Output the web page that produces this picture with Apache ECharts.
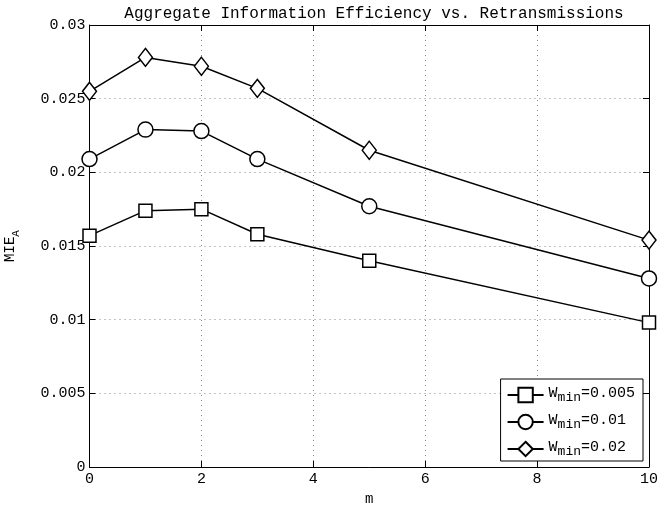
<!DOCTYPE html>
<html>
<head>
<meta charset="utf-8">
<script src="https://cdn.jsdelivr.net/npm/echarts@6/dist/echarts.min.js"></script>
<style>
  html, body { margin: 0; padding: 0; background: #fff; }
  #chart { width: 659px; height: 506px; }
</style>
</head>
<body>
<div id="chart"></div>
<script>
  // values
  var mValues = [0, 1, 2, 3, 5, 10];
  var wmin005 = [0.0157, 0.0174, 0.0175, 0.0158, 0.0140, 0.0098];
  var wmin01 = [0.0209, 0.0229, 0.0228, 0.0209, 0.0177, 0.0128];
  var wmin02 = [0.0255, 0.0278, 0.0272, 0.0257, 0.0215, 0.0154];
  var seriesNames = ['W_min=0.005', 'W_min=0.01', 'W_min=0.02'];

  var FONT = 'Liberation Mono';

  function pairs(ys) {
    return mValues.map(function (m, i) { return [m, ys[i]]; });
  }

  var myChart = echarts.init(document.getElementById('chart'));

  var lineStyle = { color: '#000', width: 1.5 };
  var itemStyle = { color: '#fff', borderColor: '#000', borderWidth: 1.5 };

  myChart.setOption({
    animation: false,
    backgroundColor: '#fff',
    title: {
      text: 'Aggregate Information Efficiency vs. Retransmissions',
      left: 369,
      textAlign: 'center',
      top: 1,
      textStyle: { fontFamily: FONT, fontSize: 16, fontWeight: 'normal', color: '#000' }
    },
    grid: { left: 89.5, right: 10, top: 25, bottom: 39, containLabel: false, outerBoundsMode: 'none' },
    legend: {
      orient: 'vertical',
      right: 16,
      bottom: 45,
      backgroundColor: '#fff',
      borderColor: '#000',
      borderWidth: 1,
      padding: [3, 8, 3, 6],
      itemGap: 5,
      itemWidth: 36,
      itemHeight: 18,
      data: seriesNames,
      formatter: function (name) {
        var v = name.split('=')[1];
        return '{n|W}{s|min}{n|=' + v + '}';
      },
      textStyle: {
        fontFamily: FONT,
        color: '#000',
        rich: {
          n: { fontFamily: FONT, fontSize: 15, color: '#000', verticalAlign: 'top', lineHeight: 18 },
          s: { fontFamily: FONT, fontSize: 13, color: '#000', verticalAlign: 'bottom', lineHeight: 18, padding: [9, 0, 0, 0] }
        }
      }
    },
    xAxis: [{
      type: 'value',
      min: 0, max: 10, interval: 2,
      name: 'm',
      nameLocation: 'middle',
      nameGap: 24,
      nameTextStyle: { fontFamily: FONT, fontSize: 14, color: '#000' },
      axisLine: { onZero: false, lineStyle: { color: '#000', width: 1 } },
      axisTick: { inside: true, length: 6, lineStyle: { color: '#000' } },
      axisLabel: { fontFamily: FONT, fontSize: 15, color: '#000', margin: 5 },
      splitLine: { show: true, lineStyle: { color: '#888', type: [1, 4] } }
    }, {
      type: 'value', position: 'top',
      min: 0, max: 10, interval: 2,
      axisLine: { onZero: false, lineStyle: { color: '#000', width: 1 } },
      axisTick: { inside: true, length: 6, lineStyle: { color: '#000' } },
      axisLabel: { show: false },
      splitLine: { show: false }
    }],
    yAxis: [{
      type: 'value',
      min: 0, max: 0.03, interval: 0.005,
      name: '{n|MIE}{s|A}',
      nameLocation: 'middle',
      nameRotate: 90,
      nameGap: 68,
      nameTextStyle: {
        rich: {
          n: { fontFamily: FONT, fontSize: 14, color: '#000', verticalAlign: 'top', lineHeight: 18 },
          s: { fontFamily: FONT, fontSize: 11, color: '#000', verticalAlign: 'bottom', lineHeight: 18, padding: [8, 0, 0, 0] }
        }
      },
      axisLine: { onZero: false, lineStyle: { color: '#000', width: 1 } },
      axisTick: { inside: true, length: 6, lineStyle: { color: '#000' } },
      axisLabel: {
        fontFamily: FONT, fontSize: 15, color: '#000', margin: 4,
        formatter: function (v) { return v === 0 ? '0' : String(+v.toFixed(3)); }
      },
      splitLine: { show: true, lineStyle: { color: '#888', type: [1, 4] } }
    }, {
      type: 'value', position: 'right',
      min: 0, max: 0.03, interval: 0.005,
      axisLine: { onZero: false, lineStyle: { color: '#000', width: 1 } },
      axisTick: { inside: true, length: 6, lineStyle: { color: '#000' } },
      axisLabel: { show: false },
      splitLine: { show: false }
    }],
    series: [{
      name: seriesNames[0], type: 'line', data: pairs(wmin005),
      symbol: 'rect', symbolSize: 13,
      lineStyle: lineStyle, itemStyle: itemStyle
    }, {
      name: seriesNames[1], type: 'line', data: pairs(wmin01),
      symbol: 'circle', symbolSize: 15,
      lineStyle: lineStyle, itemStyle: itemStyle
    }, {
      name: seriesNames[2], type: 'line', data: pairs(wmin02),
      symbol: 'diamond', symbolSize: [14, 18],
      lineStyle: lineStyle, itemStyle: itemStyle
    }]
  });
</script>
</body>
</html>
